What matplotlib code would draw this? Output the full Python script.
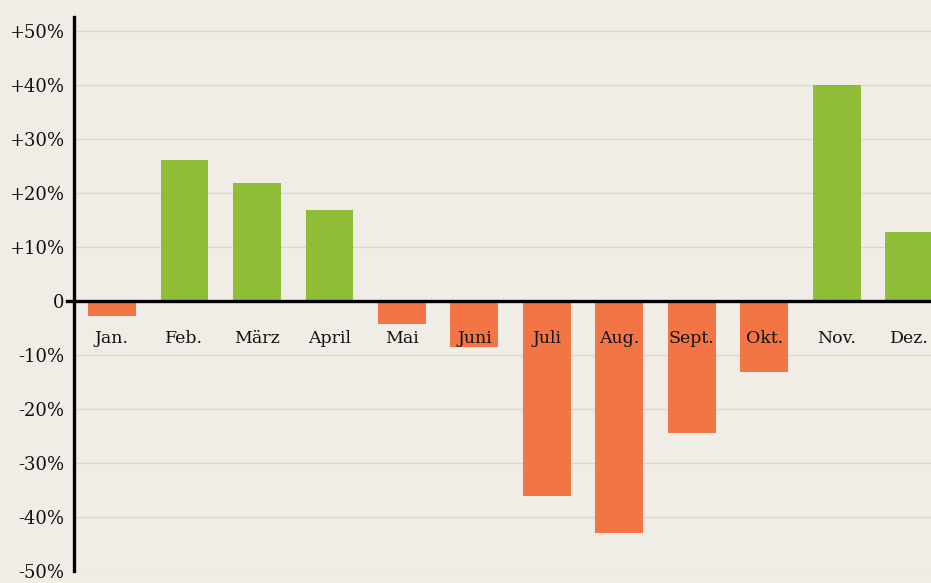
import numpy as np
import matplotlib
matplotlib.use("Agg")
import matplotlib.pyplot as plt

plt.rcParams["font.family"] = ["DejaVu Serif"]

# monthly change in percent
months = ["Jan.", "Feb.", "März", "April", "Mai", "Juni", "Juli",
          "Aug.", "Sept.", "Okt.", "Nov.", "Dez."]
values = [-2.8, 26.2, 21.9, 16.8, -4.2, -8.5, -36.2, -42.9, -24.5, -13.2, 40.0, 12.7]
yticks = [50, 40, 30, 20, 10, 0, -10, -20, -30, -40, -50]
ytick_labels = ["+50%", "+40%", "+30%", "+20%", "+10%", "0",
                "-10%", "-20%", "-30%", "-40%", "-50%"]

bg = "#f0ede6"
green = "#8fbd35"
orange = "#f37545"

fig = plt.figure(figsize=(9.31, 5.83), dpi=100, facecolor=bg)
ax = fig.add_axes([74 / 931, 12 / 583, 1 - 74 / 931, 554 / 583])
ax.set_facecolor(bg)

x = np.arange(len(months))
colors = [green if v > 0 else orange for v in values]
ax.bar(x, values, width=0.66, color=colors, zorder=2)

for xi, m in zip(x, months):
    ax.text(xi, -6.85, m, ha="center", va="center", fontsize=12.5,
            color="#111111", zorder=4)

ax.set_xlim(-0.524, 11.3)
ax.set_ylim(-50, 52.6)
ax.set_yticks(yticks)
ax.set_yticklabels(ytick_labels, fontsize=13, color="#111111")
ax.set_xticks([])
ax.grid(axis="y", color="#dad8d2", linewidth=1, zorder=0)
ax.tick_params(axis="y", length=0, pad=7)

# zero line, slightly over the spine on the left
ax.axhline(0, xmin=-0.008, color="black", linewidth=2.4, zorder=3, clip_on=False)

for sp in ["top", "right", "bottom"]:
    ax.spines[sp].set_visible(False)
ax.spines["left"].set_linewidth(2.4)
ax.spines["left"].set_zorder(3)

fig.savefig("out.png", dpi=100, facecolor=bg)
